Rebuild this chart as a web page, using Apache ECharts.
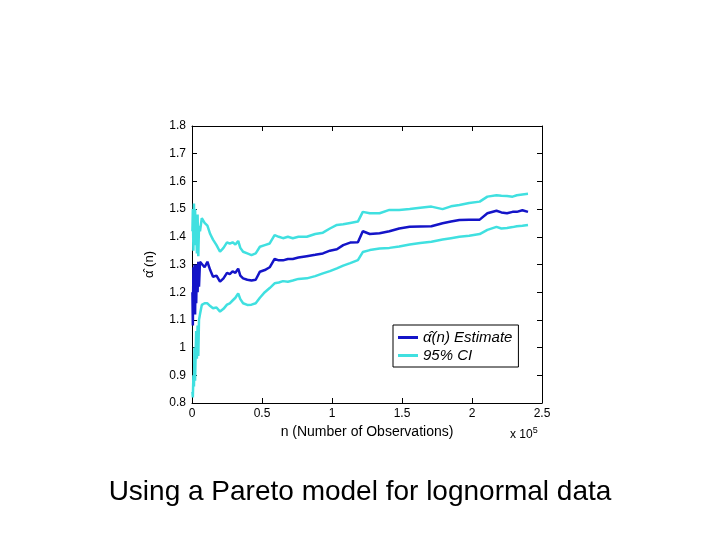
<!DOCTYPE html>
<html>
<head>
<meta charset="utf-8">
<script src="https://cdn.jsdelivr.net/npm/echarts@6/dist/echarts.min.js"></script>
<style>
  html, body { margin: 0; padding: 0; background: #fff; }
  #chart { width: 720px; height: 540px; }
</style>
</head>
<body>
<div id="chart"></div>
<script>
// number of observations (n)
var nObs = [300, 600, 1000, 1400, 1800, 2200, 2600, 3000, 3500, 4000, 4500, 5000, 5700,
    7000, 9000, 11000, 13000, 15000, 17500, 20000, 22500, 25000, 27000, 29000, 31000, 33000,
    34500, 36500, 39500, 42500, 45500, 48500, 52000, 55500, 59000, 62000, 65000, 68500, 72000,
    76000, 82000, 88000, 93500, 98500, 103500, 108000, 113000, 118500, 122000, 127000, 134000,
    141000, 148000, 155500, 163000, 171000, 179000, 185000, 191000, 198000, 205500, 211000,
    217500, 221000, 225000, 229000, 232000, 236000, 240000];
var alphaEstimate = [1.20, 1.08, 1.29, 1.15, 1.30, 1.12, 1.28, 1.16, 1.30, 1.20, 1.31, 1.22, 1.31,
    1.31, 1.29, 1.31, 1.28, 1.256, 1.26, 1.238, 1.25, 1.27, 1.265, 1.275, 1.27, 1.285,
    1.26, 1.25, 1.245, 1.242, 1.245, 1.274, 1.28, 1.29, 1.32, 1.315, 1.315, 1.32, 1.32,
    1.325, 1.33, 1.335, 1.34, 1.35, 1.355, 1.37, 1.379, 1.38, 1.42, 1.41, 1.413,
    1.42, 1.43, 1.436, 1.437, 1.438, 1.449, 1.455, 1.461, 1.462, 1.462, 1.485,
    1.494, 1.488, 1.485, 1.49, 1.49, 1.496, 1.49];
var ciUpper = [1.42, 1.50, 1.35, 1.52, 1.37, 1.50, 1.40, 1.46, 1.34, 1.48, 1.33, 1.44, 1.42,
    1.467, 1.45, 1.44, 1.41, 1.39, 1.37, 1.346, 1.36, 1.38, 1.375, 1.38, 1.372, 1.385,
    1.36, 1.346, 1.34, 1.334, 1.34, 1.364, 1.37, 1.376, 1.406, 1.40, 1.395, 1.40, 1.395,
    1.40, 1.40, 1.41, 1.415, 1.43, 1.443, 1.445, 1.45, 1.455, 1.49, 1.485, 1.485,
    1.497, 1.497, 1.50, 1.505, 1.509, 1.50, 1.51, 1.515, 1.522, 1.527, 1.545,
    1.55, 1.548, 1.547, 1.545, 1.55, 1.553, 1.555];
var ciLower = [0.84, 0.82, 0.90, 0.86, 1.00, 0.88, 0.98, 1.06, 0.96, 1.08, 0.97, 1.10, 1.12,
    1.154, 1.16, 1.16, 1.15, 1.142, 1.145, 1.13, 1.14, 1.155, 1.16, 1.17, 1.18, 1.196,
    1.175, 1.16, 1.154, 1.155, 1.16, 1.18, 1.20, 1.215, 1.232, 1.235, 1.24, 1.238, 1.242,
    1.248, 1.25, 1.258, 1.268, 1.276, 1.286, 1.296, 1.305, 1.316, 1.345, 1.352, 1.358,
    1.36, 1.365, 1.372, 1.378, 1.382, 1.39, 1.395, 1.40, 1.404, 1.41, 1.425,
    1.436, 1.43, 1.432, 1.435, 1.438, 1.44, 1.443];

function pairs(ys) {
    return nObs.map(function (n, i) { return [n, ys[i]]; });
}

var chart = echarts.init(document.getElementById('chart'));
var font = 'Liberation Sans, Arial, sans-serif';
var estName = 'α\u0302(n) Estimate';
var ciName = '95% CI';

var option = {
    backgroundColor: '#fff',
    animation: false,
    textStyle: { fontFamily: font },
    grid: { left: 192, right: 178, top: 126, bottom: 137 },
    legend: {
        orient: 'vertical',
        left: 393,
        top: 325,
        backgroundColor: '#fff',
        borderColor: '#000',
        borderWidth: 1,
        borderRadius: 0,
        padding: [5, 6, 4, 5],
        itemGap: 3,
        itemWidth: 20,
        itemHeight: 3,
        icon: 'rect',
        textStyle: { fontFamily: font, fontStyle: 'italic', fontSize: 15, color: '#000' },
        data: [estName, ciName]
    },
    xAxis: [{
        type: 'value',
        min: 0,
        max: 250000,
        interval: 50000,
        name: 'n (Number of Observations)',
        nameLocation: 'middle',
        nameGap: 22,
        nameTextStyle: { fontSize: 14, color: '#000', fontFamily: font },
        axisLine: { show: true, onZero: false, lineStyle: { color: '#000', width: 1 } },
        axisTick: { show: true, inside: true, length: 5, lineStyle: { color: '#000' } },
        axisLabel: {
            fontSize: 12, color: '#000', margin: 5, fontFamily: font,
            formatter: function (v) { return String(v / 100000); }
        },
        splitLine: { show: false }
    }, {
        type: 'value',
        position: 'top',
        min: 0,
        max: 250000,
        interval: 50000,
        axisLine: { show: true, onZero: false, lineStyle: { color: '#000', width: 1 } },
        axisTick: { show: true, inside: true, length: 5, lineStyle: { color: '#000' } },
        axisLabel: { show: false },
        splitLine: { show: false }
    }],
    yAxis: [{
        type: 'value',
        min: 0.8,
        max: 1.8,
        interval: 0.1,
        name: 'α\u0302 (n)',
        nameLocation: 'middle',
        nameRotate: 90,
        nameGap: 36,
        nameTextStyle: { fontSize: 13, color: '#000', fontFamily: font },
        axisLine: { show: true, onZero: false, lineStyle: { color: '#000', width: 1 } },
        axisTick: { show: true, inside: true, length: 5, lineStyle: { color: '#000' } },
        axisLabel: {
            fontSize: 12, color: '#000', margin: 6, fontFamily: font,
            formatter: function (v) { return String(Math.round(v * 10) / 10); }
        },
        splitLine: { show: false }
    }, {
        type: 'value',
        position: 'right',
        min: 0.8,
        max: 1.8,
        interval: 0.1,
        axisLine: { show: true, onZero: false, lineStyle: { color: '#000', width: 1 } },
        axisTick: { show: true, inside: true, length: 5, lineStyle: { color: '#000' } },
        axisLabel: { show: false },
        splitLine: { show: false }
    }],
    graphic: [{
        type: 'text',
        left: 510,
        top: 426,
        style: {
            text: 'x 10{sup|5}',
            fontSize: 12,
            fontFamily: font,
            fill: '#000',
            rich: { sup: { fontSize: 9, verticalAlign: 'top', padding: [0, 0, 8, 0], fontFamily: font } }
        }
    }, {
        type: 'text',
        left: 'center',
        top: 478,
        style: {
            text: 'Using a Pareto model for lognormal data',
            fontSize: 28,
            fontFamily: font,
            fill: '#000'
        }
    }],
    series: [{
        name: ciName,
        type: 'line',
        data: pairs(ciUpper),
        showSymbol: false,
        lineStyle: { color: '#40e0e0', width: 2.5 },
        itemStyle: { color: '#40e0e0' },
        z: 2
    }, {
        name: ciName,
        type: 'line',
        data: pairs(ciLower),
        showSymbol: false,
        lineStyle: { color: '#40e0e0', width: 2.5 },
        itemStyle: { color: '#40e0e0' },
        z: 2
    }, {
        name: estName,
        type: 'line',
        data: pairs(alphaEstimate),
        showSymbol: false,
        lineStyle: { color: '#1414c8', width: 2.5 },
        itemStyle: { color: '#1414c8' },
        z: 3
    }]
};
chart.setOption(option);
</script>
</body>
</html>
